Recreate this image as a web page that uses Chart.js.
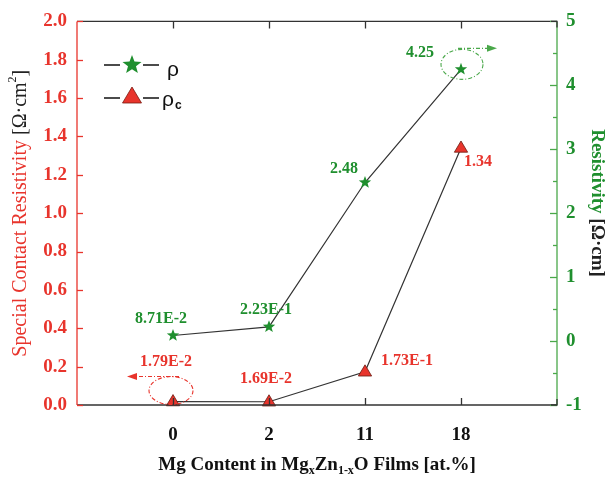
<!DOCTYPE html>
<html><head><meta charset="utf-8">
<script src="https://cdn.jsdelivr.net/npm/chart.js@4"></script>
<style>html,body{margin:0;padding:0;background:#fff}#wrap{width:608px;height:479px}</style>
</head><body><div id="wrap"><canvas id="c" width="608" height="479"></canvas></div>
<script>
const categories = ['0', '2', '11', '18'];
const rhoValues = [0.0871, 0.223, 2.48, 4.25];
const rhoLabels = ['8.71E-2', '2.23E-1', '2.48', '4.25'];
const rhoCValues = [0.0179, 0.0169, 0.173, 1.34];
const rhoCLabels = ['1.79E-2', '1.69E-2', '1.73E-1', '1.34'];

const RED = '#e8342c', GREEN = '#1f8f2e', GREEN_AX = '#4aa84a', DARK = '#333333';
const SERIF = '"Liberation Serif", "DejaVu Serif", serif';

function starPath(ctx, x, y, r) {
  ctx.beginPath();
  for (let i = 0; i < 10; i++) {
    const a = -Math.PI / 2 + i * Math.PI / 5;
    const rr = i % 2 === 0 ? r : r * 0.42;
    const px = x + rr * Math.cos(a), py = y + rr * Math.sin(a);
    i ? ctx.lineTo(px, py) : ctx.moveTo(px, py);
  }
  ctx.closePath();
}
function triPath(ctx, x, y, r) {
  ctx.beginPath();
  ctx.moveTo(x, y - r);
  ctx.lineTo(x + r * 0.95, y + r * 0.6);
  ctx.lineTo(x - r * 0.95, y + r * 0.6);
  ctx.closePath();
}

const deco = {
  id: 'deco',
  afterDraw(chart) {
    const ctx = chart.ctx, a = chart.chartArea;
    const xs = chart.scales.x, yl = chart.scales.y, yr = chart.scales.y1;
    ctx.save();
    ctx.lineWidth = 1.3; ctx.strokeStyle = DARK;
    ctx.beginPath(); ctx.moveTo(a.left, a.top); ctx.lineTo(a.right, a.top);
    ctx.moveTo(a.left, a.bottom); ctx.lineTo(a.right, a.bottom); ctx.stroke();
    categories.forEach((c, i) => {
      const px = Math.round(xs.getPixelForValue(i)) + 0.5;
      ctx.beginPath(); ctx.moveTo(px, a.top); ctx.lineTo(px, a.top + 7);
      ctx.moveTo(px, a.bottom); ctx.lineTo(px, a.bottom - 7); ctx.stroke();
    });
    ctx.strokeStyle = RED; ctx.lineWidth = 1.3;
    ctx.beginPath(); ctx.moveTo(a.left, a.top); ctx.lineTo(a.left, a.bottom); ctx.stroke();
    yl.ticks.forEach(t => {
      const py = Math.round(yl.getPixelForValue(t.value)) + 0.5;
      ctx.beginPath(); ctx.moveTo(a.left, py); ctx.lineTo(a.left + 6, py); ctx.stroke();
    });
    ctx.strokeStyle = GREEN_AX;
    ctx.beginPath(); ctx.moveTo(a.right, a.top); ctx.lineTo(a.right, a.bottom); ctx.stroke();
    for (let v = -1; v <= 5; v += 0.5) {
      const py = Math.round(yr.getPixelForValue(v)) + 0.5;
      const len = Number.isInteger(v) ? 7 : 4;
      ctx.beginPath(); ctx.moveTo(a.right, py); ctx.lineTo(a.right - len, py); ctx.stroke();
    }
    ctx.strokeStyle = DARK;
    ctx.beginPath(); ctx.moveTo(a.right - 6, a.top); ctx.lineTo(a.right, a.top); ctx.lineTo(a.right, a.top + 6);
    ctx.moveTo(a.right - 6, a.bottom); ctx.lineTo(a.right, a.bottom); ctx.lineTo(a.right, a.bottom - 6); ctx.stroke();

    ctx.font = 'bold 16px ' + SERIF; ctx.textBaseline = 'middle'; ctx.textAlign = 'center';
    const rOff = [[-12, -17], [-3, -17], [-21, -14], [-41, -16]];
    const cOff = [[-7, -40], [-3, -23], [42, -11], [17, 14]];
    ctx.fillStyle = GREEN;
    rhoValues.forEach((v, i) => {
      ctx.fillText(rhoLabels[i], xs.getPixelForValue(i) + rOff[i][0], yr.getPixelForValue(v) + rOff[i][1]);
    });
    ctx.fillStyle = RED;
    rhoCValues.forEach((v, i) => {
      ctx.fillText(rhoCLabels[i], xs.getPixelForValue(i) + cOff[i][0], yl.getPixelForValue(v) + cOff[i][1]);
    });

    function ellArrow(color, cx, cy, rx, ry, x1, y1, x2, y2) {
      ctx.strokeStyle = color; ctx.fillStyle = color; ctx.lineWidth = 1.1;
      ctx.setLineDash([4, 2, 1, 2]);
      ctx.beginPath(); ctx.ellipse(cx, cy, rx, ry, 0, 0, Math.PI * 2); ctx.stroke();
      ctx.beginPath(); ctx.moveTo(x1, y1); ctx.lineTo(x2, y2); ctx.stroke();
      ctx.setLineDash([]);
      const dir = Math.sign(x2 - x1);
      ctx.beginPath(); ctx.moveTo(x2 + dir * 10, y2); ctx.lineTo(x2, y2 - 3.5); ctx.lineTo(x2, y2 + 3.5); ctx.closePath(); ctx.fill();
    }
    const p0x = xs.getPixelForValue(0), p0y = yl.getPixelForValue(rhoCValues[0]);
    ellArrow(RED, p0x - 2, p0y - 11, 22, 14, p0x + 6, p0y - 25, p0x - 36, p0y - 25);
    const p3x = xs.getPixelForValue(3), p3y = yr.getPixelForValue(rhoValues[3]);
    ellArrow(GREEN_AX, p3x + 1, p3y - 5, 21, 15, p3x - 3, p3y - 21, p3x + 26, p3y - 21);

    ctx.strokeStyle = '#111'; ctx.lineWidth = 1.6;
    [[65, 'star'], [98, 'tri']].forEach(([ly, kind]) => {
      ctx.beginPath(); ctx.moveTo(104, ly); ctx.lineTo(120, ly); ctx.moveTo(143, ly); ctx.lineTo(159, ly); ctx.stroke();
      if (kind === 'star') { ctx.fillStyle = GREEN; starPath(ctx, 132, ly, 10); ctx.fill(); }
      else { ctx.fillStyle = RED; triPath(ctx, 132, ly - 1, 10); ctx.fill(); ctx.strokeStyle = '#7a1a10'; ctx.lineWidth = 0.8; ctx.stroke(); ctx.strokeStyle = '#111'; }
    });
    ctx.fillStyle = '#111'; ctx.textAlign = 'left';
    ctx.font = '21px "Liberation Sans", sans-serif';
    ctx.fillText('ρ', 167, 70);
    ctx.fillText('ρ', 162, 100);
    ctx.font = 'bold 12px "Liberation Sans", sans-serif';
    ctx.fillText('c', 175, 106);

    function runs(parts, x, y, align) {
      let w = 0;
      parts.forEach(p => { ctx.font = p[1]; w += ctx.measureText(p[0]).width; });
      let cx = align === 'center' ? x - w / 2 : x;
      parts.forEach(p => { ctx.font = p[1]; ctx.fillStyle = p[2]; ctx.fillText(p[0], cx, y + (p[3] || 0)); cx += ctx.measureText(p[0]).width; });
    }
    ctx.textAlign = 'left'; ctx.textBaseline = 'middle';
    const B19 = 'bold 19px ' + SERIF, B12 = 'bold 12px ' + SERIF;
    runs([['Mg Content in Mg', B19, '#111'], ['x', B12, '#111', 6], ['Zn', B19, '#111'], ['1-x', B12, '#111', 6], ['O Films [at.%]', B19, '#111']],
      (a.left + a.right) / 2, 465, 'center');
    ctx.save(); ctx.translate(21, (a.top + a.bottom) / 2); ctx.rotate(-Math.PI / 2);
    const R20 = '20px ' + SERIF, R12 = '12px ' + SERIF;
    runs([['Special Contact Resistivity ', R20, RED], ['[Ω·cm', R20, '#222'], ['2', R12, '#222', -8], [']', R20, '#222']], 0, 0, 'center');
    ctx.restore();
    ctx.save(); ctx.translate(597, 203); ctx.rotate(Math.PI / 2);
    runs([['Resistivity ', B19, GREEN], ['[Ω·cm]', B19, '#222']], 0, 0, 'center');
    ctx.restore();
    ctx.restore();
  }
};

const chart = new Chart(document.getElementById('c'), {
  type: 'line',
  data: {
    datasets: [
      {
        label: 'ρ', yAxisID: 'y1',
        data: rhoValues.map((v, i) => ({ x: i, y: v })),
        borderColor: DARK, borderWidth: 1.2, tension: 0,
        pointRadius: 0, backgroundColor: GREEN
      },
      {
        label: 'ρc', yAxisID: 'y',
        data: rhoCValues.map((v, i) => ({ x: i, y: v })),
        borderColor: DARK, borderWidth: 1.2, tension: 0,
        pointRadius: 0, backgroundColor: RED
      }
    ]
  },
  options: {
    responsive: false, animation: false,
    clip: false,
    layout: { padding: { top: 19, right: 0, left: 0, bottom: 0 } },
    plugins: { legend: { display: false }, tooltip: { enabled: false } },
    scales: {
      x: {
        type: 'linear', min: -1, max: 4,
        grid: { display: false, drawTicks: false }, border: { display: false },
        ticks: {
          stepSize: 1, padding: 19, color: '#111', font: { family: SERIF, size: 19, weight: 'bold' },
          callback: v => (Number.isInteger(v) && v >= 0 && v < categories.length) ? categories[v] : ''
        },
        afterFit: s => { s.height = 74; }
      },
      y: {
        position: 'left', min: 0, max: 2,
        grid: { display: false, drawTicks: false }, border: { display: false },
        ticks: { stepSize: 0.2, padding: 10, color: RED, font: { family: SERIF, size: 19, weight: 'bold' }, callback: v => v.toFixed(1) },
        afterFit: s => { s.width = 77; }
      },
      y1: {
        position: 'right', min: -1, max: 5,
        grid: { display: false, drawTicks: false }, border: { display: false },
        ticks: { stepSize: 1, padding: 9, color: GREEN, font: { family: SERIF, size: 19, weight: 'bold' } },
        afterFit: s => { s.width = 51; }
      }
    }
  },
  plugins: [deco, {
    id: 'markers',
    afterDatasetsDraw(chart) {
      const ctx = chart.ctx;
      ctx.save();
      chart.getDatasetMeta(0).data.forEach(pt => { ctx.fillStyle = GREEN; starPath(ctx, pt.x, pt.y, 6.5); ctx.fill(); });
      chart.getDatasetMeta(1).data.forEach(pt => {
        ctx.fillStyle = RED; triPath(ctx, pt.x, pt.y, 7); ctx.fill();
        ctx.strokeStyle = '#6a1a10'; ctx.lineWidth = 0.8; ctx.stroke();
      });
      ctx.restore();
    }
  }]
});
</script></body></html>
